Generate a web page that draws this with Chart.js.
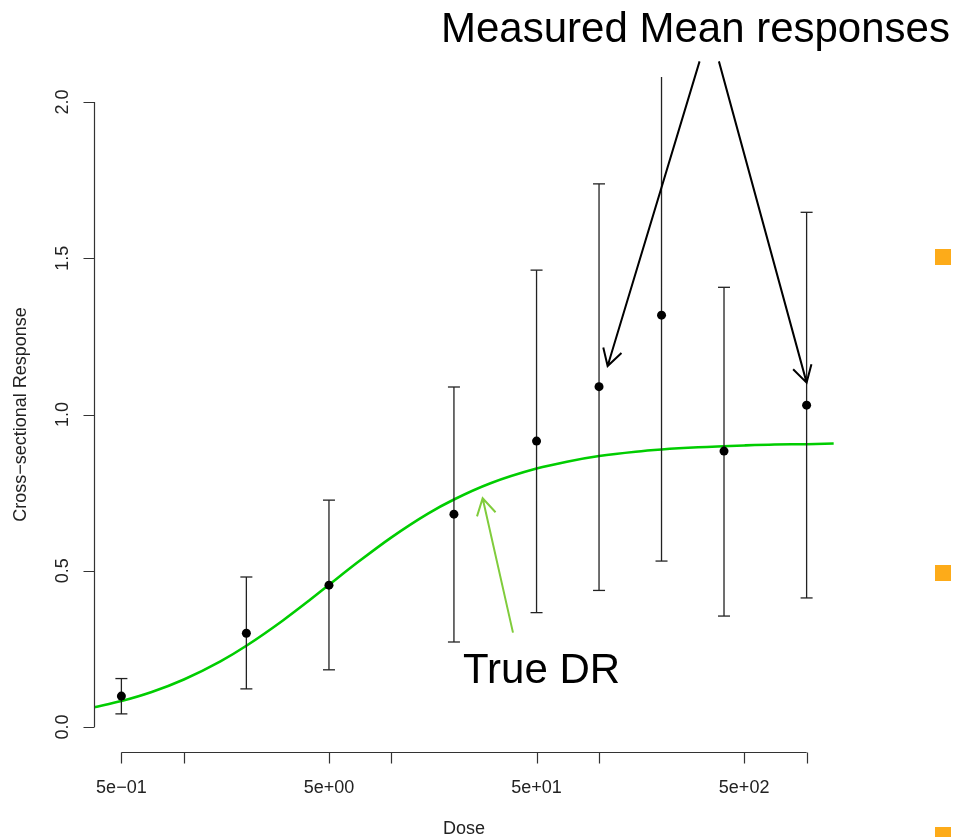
<!DOCTYPE html>
<html>
<head>
<meta charset="utf-8">
<script src="https://cdn.jsdelivr.net/npm/chart.js@4.4.1/dist/chart.umd.min.js"></script>
<style>
  html, body { margin: 0; padding: 0; background: #fff; }
  #wrap { position: relative; width: 959px; height: 837px; }
  .bullet { position: absolute; left: 935px; width: 16px; height: 16px; background: #FDAB19; }
</style>
</head>
<body>
<div id="wrap">
  <canvas id="chart-DoseResponse" width="959" height="837"></canvas>
  <div class="bullet" style="top:249px"></div>
  <div class="bullet" style="top:565px"></div>
  <div class="bullet" style="top:827px"></div>
</div>
<script>
// measured means with +/- error bars
const doseValue = [0.5, 2, 5, 20, 50, 100, 200, 400, 1000];
const meanValue = [0.099, 0.300, 0.454, 0.681, 0.915, 1.089, 1.318, 0.883, 1.030];
const lowerValue = [0.042, 0.122, 0.183, 0.272, 0.366, 0.437, 0.531, 0.355, 0.413];
const upperValue = [0.155, 0.480, 0.726, 1.088, 1.462, 1.738, 2.105, 1.407, 1.647];

// true dose-response curve
const curveDose = [0.37, 0.5, 0.7, 1, 1.5, 2, 3, 4, 5, 7, 10, 15, 20, 30, 50, 70, 100, 150, 200, 300, 500, 700, 1000, 1350];
const curveValue = [0.063, 0.083, 0.112, 0.152, 0.210, 0.260, 0.341, 0.404, 0.455, 0.531, 0.607, 0.683, 0.728, 0.780, 0.827, 0.849, 0.867, 0.881, 0.888, 0.895, 0.901, 0.904, 0.905, 0.907];

// axes
const xTickValue = [0.5, 1, 5, 10, 50, 100, 500, 1000];
const xLabelValue = [0.5, 5, 50, 500];
const xLabelText = ['5e\u221201', '5e+00', '5e+01', '5e+02'];
const yTickValue = [0, 0.5, 1, 1.5, 2];
const yTickText = ['0.0', '0.5', '1.0', '1.5', '2.0'];

const FONT = '"Liberation Sans", Arial, sans-serif';

const errorPoints = [];
doseValue.forEach(function (d, i) {
    errorPoints.push({ x: d, y: lowerValue[i] });
    errorPoints.push({ x: d, y: upperValue[i] });
    errorPoints.push({ x: d, y: null });
});

// arrows in data coordinates (tip at "to")
const arrows = [
    { from: [305, 2.13], to: [110, 1.155], color: '#000', width: 2 },
    { from: [378, 2.13], to: [1000, 1.102], color: '#000', width: 2 },
    { from: [38.5, 0.302], to: [27.5, 0.732], color: '#80CC3C', width: 2 }
];

function drawArrow(ctx, x0, y0, x1, y1, color, width) {
    const len = 19;
    const ang = Math.atan2(y0 - y1, x0 - x1);
    ctx.save();
    ctx.strokeStyle = color;
    ctx.lineWidth = width;
    ctx.beginPath();
    ctx.moveTo(x0, y0);
    ctx.lineTo(x1, y1);
    ctx.moveTo(x1 + len * Math.cos(ang - Math.PI / 6), y1 + len * Math.sin(ang - Math.PI / 6));
    ctx.lineTo(x1, y1);
    ctx.lineTo(x1 + len * Math.cos(ang + Math.PI / 6), y1 + len * Math.sin(ang + Math.PI / 6));
    ctx.stroke();
    ctx.restore();
}

const rAxes = {
    id: 'rAxes',
    afterDraw: function (chart) {
        const ctx = chart.ctx;
        const xs = chart.scales.x;
        const ys = chart.scales.y;
        const area = chart.chartArea;
        const tick = 11;
        ctx.save();
        ctx.strokeStyle = '#333';
        ctx.lineWidth = 1.2;
        ctx.fillStyle = '#222';

        // x axis
        const yb = Math.round(area.bottom) + 0.5;
        ctx.beginPath();
        ctx.moveTo(xs.getPixelForValue(xTickValue[0]), yb);
        ctx.lineTo(xs.getPixelForValue(xTickValue[xTickValue.length - 1]), yb);
        xTickValue.forEach(function (v) {
            const px = Math.round(xs.getPixelForValue(v)) + 0.5;
            ctx.moveTo(px, yb);
            ctx.lineTo(px, yb + tick);
        });
        ctx.stroke();
        ctx.font = '18px ' + FONT;
        ctx.textAlign = 'center';
        ctx.textBaseline = 'alphabetic';
        xLabelValue.forEach(function (v, i) {
            ctx.fillText(xLabelText[i], xs.getPixelForValue(v), yb + 40);
        });
        ctx.fillText('Dose', (area.left + area.right) / 2, 834);

        // y axis
        const xl = Math.round(area.left) + 0.5;
        ctx.beginPath();
        ctx.moveTo(xl, ys.getPixelForValue(yTickValue[0]));
        ctx.lineTo(xl, ys.getPixelForValue(yTickValue[yTickValue.length - 1]));
        yTickValue.forEach(function (v) {
            const py = Math.round(ys.getPixelForValue(v)) + 0.5;
            ctx.moveTo(xl, py);
            ctx.lineTo(xl - tick, py);
        });
        ctx.stroke();
        yTickValue.forEach(function (v, i) {
            ctx.save();
            ctx.translate(68, ys.getPixelForValue(v));
            ctx.rotate(-Math.PI / 2);
            ctx.fillText(yTickText[i], 0, 0);
            ctx.restore();
        });
        ctx.save();
        ctx.translate(26, (area.top + area.bottom) / 2);
        ctx.rotate(-Math.PI / 2);
        ctx.fillText('Cross\u2212sectional Response', 0, 0);
        ctx.restore();

        // annotations
        arrows.forEach(function (a) {
            drawArrow(ctx,
                xs.getPixelForValue(a.from[0]), ys.getPixelForValue(a.from[1]),
                xs.getPixelForValue(a.to[0]), ys.getPixelForValue(a.to[1]),
                a.color, a.width);
        });
        ctx.fillStyle = '#000';
        ctx.font = '42px ' + FONT;
        ctx.textAlign = 'left';
        ctx.fillText('Measured Mean responses', 441, 42);
        ctx.fillText('True DR', 463, 683);
        ctx.restore();
    }
};

const ctxDoseResponse = document.getElementById('chart-DoseResponse').getContext('2d');

const chartDoseResponse = new Chart(ctxDoseResponse, {
    type: 'line',
    data: {
        datasets: [
            {
                label: 'True DR',
                data: curveDose.map(function (d, i) { return { x: d, y: curveValue[i] }; }),
                borderColor: '#00CD00',
                borderWidth: 2.6,
                pointRadius: 0,
                cubicInterpolationMode: 'monotone',
                fill: false,
                order: 2
            },
            {
                label: 'Error bars',
                data: errorPoints,
                borderColor: '#222',
                borderWidth: 1.3,
                pointStyle: 'line',
                pointRadius: 6,
                pointBorderColor: '#222',
                pointBorderWidth: 1.3,
                spanGaps: false,
                tension: 0,
                fill: false,
                order: 1
            },
            {
                label: 'Measured mean',
                data: doseValue.map(function (d, i) { return { x: d, y: meanValue[i] }; }),
                showLine: false,
                pointRadius: 4.5,
                pointBackgroundColor: '#000',
                pointBorderColor: '#000',
                pointBorderWidth: 0,
                order: 0
            }
        ]
    },
    options: {
        responsive: false,
        animation: false,
        layout: { padding: { left: 94, right: 125, top: 77, bottom: 85 } },
        plugins: {
            legend: { display: false },
            tooltip: { enabled: false }
        },
        scales: {
            x: { type: 'logarithmic', min: 0.369, max: 1355, display: false },
            y: { type: 'linear', min: -0.08, max: 2.08, display: false }
        }
    },
    plugins: [rAxes]
});
</script>
</body>
</html>
